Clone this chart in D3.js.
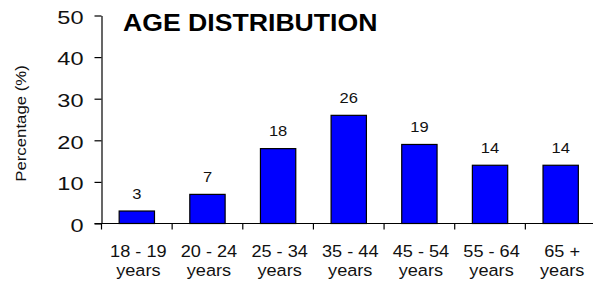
<!DOCTYPE html>
<html>
<head>
<meta charset="utf-8">
<script src="https://cdn.jsdelivr.net/npm/d3@7"></script>
<style>
  html, body { margin: 0; padding: 0; background: #fff; }
  svg { display: block; font-family: "Liberation Sans", Arial, sans-serif; }
</style>
</head>
<body>
<svg width="593" height="284"></svg>
<script>
const width = 593;
const height = 284;

const categories = ["18 - 19|years", "20 - 24|years", "25 - 34|years", "35 - 44|years",
                    "45 - 54|years", "55 - 64|years", "65 +|years"];
const values = [3, 7, 18, 26, 19, 14, 14];
const yTicks = [0, 10, 20, 30, 40, 50];

const svg = d3.select("svg").attr("viewBox", [0, 0, width, height]);

// plot area (text in the original is rendered a bit wide, hence the x-scales)
const plotLeft = 101.5, plotRight = 596, plotTop = 15.5, plotBottom = 223.5;

const x = d3.scaleBand()
  .domain(categories)
  .range([plotLeft, plotRight])
  .paddingInner(0)
  .paddingOuter(0);

const y = d3.scaleLinear()
  .domain([0, 50])
  .range([plotBottom, plotTop]);

// bars
svg.append("g")
  .selectAll("rect")
  .data(values)
  .enter()
  .append("rect")
  .attr("x", (d, i) => x(categories[i]) + x.bandwidth() * 0.25)
  .attr("y", d => y(d))
  .attr("width", x.bandwidth() * 0.5)
  .attr("height", d => y(0) - y(d))
  .attr("fill", "#0000ff")
  .attr("stroke", "#000")
  .attr("stroke-width", 1.2);

// value labels
svg.append("g")
  .selectAll("text")
  .data(values)
  .enter()
  .append("text")
  .attr("text-anchor", "middle")
  .attr("transform", (d, i) =>
    `translate(${x(categories[i]) + x.bandwidth() / 2},${y(d) - 12.5}) scale(1.18,1)`)
  .style("font-size", "14px")
  .attr("fill", "#111")
  .text(d => d);

// y axis
const yAxis = svg.append("g")
  .attr("transform", `translate(${plotLeft},0)`)
  .call(d3.axisLeft(y).tickValues(yTicks).tickSize(7).tickSizeOuter(0));
yAxis.selectAll("path, line").attr("stroke", "#000").attr("stroke-width", 1.2);
yAxis.selectAll("text")
  .attr("x", null)
  .attr("dy", null)
  .attr("dominant-baseline", "central")
  .attr("transform", "translate(-18,1.5) scale(1.24,1)")
  .style("font-size", "19px")
  .attr("fill", "#111");
yAxis.attr("font-family", null).attr("font-size", null);

// x axis: line plus ticks at band boundaries
const xAxis = svg.append("g").attr("transform", `translate(0,${plotBottom})`);
xAxis.append("line")
  .attr("x1", plotLeft - 7).attr("x2", plotRight)
  .attr("stroke", "#000").attr("stroke-width", 1.2);
xAxis.selectAll("line.tick")
  .data(categories)
  .enter()
  .append("line")
  .attr("class", "tick")
  .attr("x1", d => x(d)).attr("x2", d => x(d))
  .attr("y1", 0).attr("y2", 6)
  .attr("stroke", "#000").attr("stroke-width", 1.2);

// category labels (two lines)
const catLabels = xAxis.selectAll("g.cat")
  .data(categories)
  .enter()
  .append("g")
  .attr("class", "cat")
  .attr("transform", d => `translate(${x(d) + x.bandwidth() / 2 + 1.5},0)`);
catLabels.each(function (d) {
  const parts = d.split("|");
  const g = d3.select(this);
  parts.forEach((p, k) => {
    g.append("text")
      .attr("text-anchor", "middle")
      .attr("transform", `translate(0,${33 + k * 19}) scale(1.1,1)`)
      .style("font-size", "16.5px")
      .attr("fill", "#111")
      .text(p);
  });
});

// y axis title
svg.append("text")
  .attr("text-anchor", "middle")
  .attr("dominant-baseline", "central")
  .attr("transform", "translate(21,123.5) rotate(-90) scale(1.12,1)")
  .style("font-size", "15px")
  .attr("fill", "#111")
  .text("Percentage (%)");

// chart title
svg.append("text")
  .attr("transform", "translate(123,30.5) scale(1.11,1)")
  .style("font-size", "24px")
  .style("font-weight", "bold")
  .attr("fill", "#000")
  .text("AGE DISTRIBUTION");
</script>
</body>
</html>
